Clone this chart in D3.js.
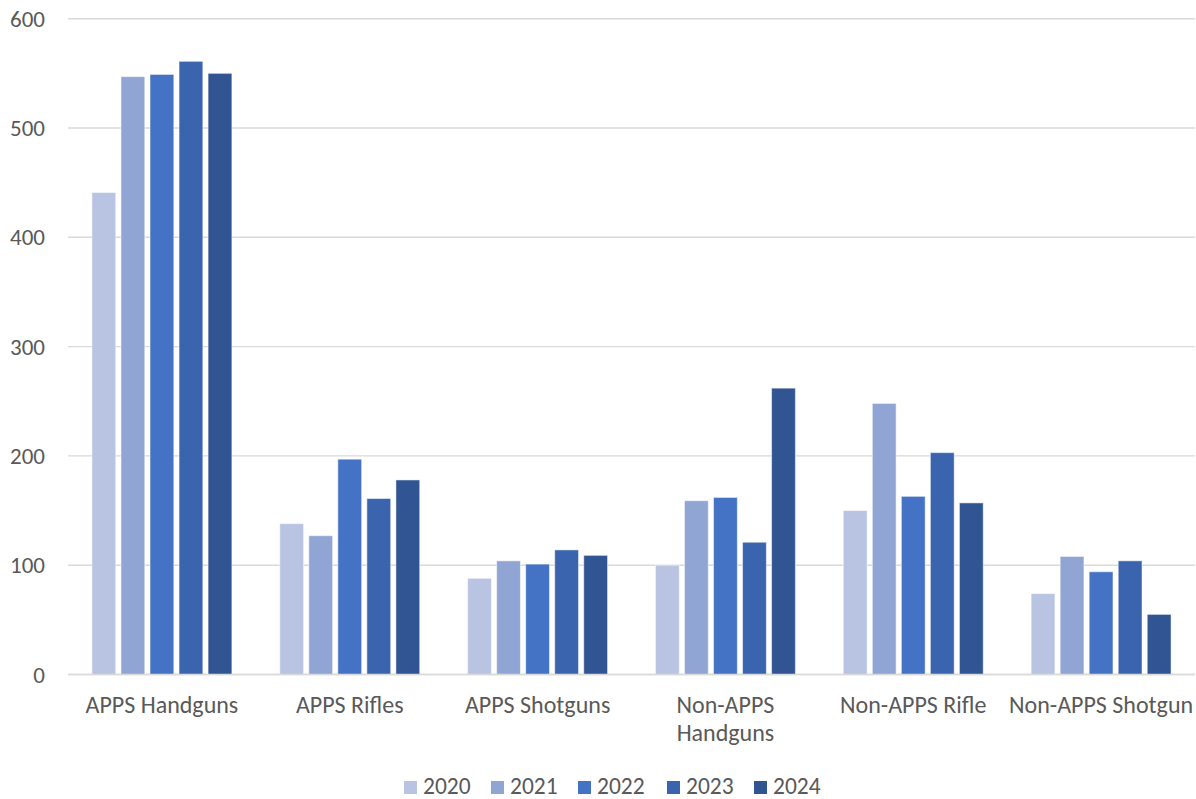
<!DOCTYPE html>
<html>
<head>
<meta charset="utf-8">
<script src="https://cdn.jsdelivr.net/npm/d3@7"></script>
<style>
  html, body { margin: 0; padding: 0; background: #fff; }
  svg { display: block; }
  text { font-family: Carlito, Calibri, Lato, "Open Sans", sans-serif; fill: #595959; }
</style>
</head>
<body>
<svg id="chart" width="1196" height="799"></svg>
<script>
const categories = ["APPS Handguns", "APPS Rifles", "APPS Shotguns", "Non-APPS Handguns", "Non-APPS Rifle", "Non-APPS Shotgun"];
const categoryLines = [["APPS Handguns"], ["APPS Rifles"], ["APPS Shotguns"], ["Non-APPS", "Handguns"], ["Non-APPS Rifle"], ["Non-APPS Shotgun"]];
const years = ["2020", "2021", "2022", "2023", "2024"];
const values2020 = [441, 138, 88, 100, 150, 74];
const values2021 = [547, 127, 104, 159, 248, 108];
const values2022 = [549, 197, 101, 162, 163, 94];
const values2023 = [561, 161, 114, 121, 203, 104];
const values2024 = [550, 178, 109, 262, 157, 55];
const yTicks = [0, 100, 200, 300, 400, 500, 600];
const colors = ["#B9C4E3", "#91A5D5", "#4473C5", "#3A64AD", "#315592"];

const series = [values2020, values2021, values2022, values2023, values2024];

const svg = d3.select("#chart");
const plotLeft = 68, plotRight = 1195, plotTop = 18.7, plotBottom = 674.5;

const y = d3.scaleLinear().domain([0, 600]).range([plotBottom, plotTop]);
const x0 = d3.scaleBand().domain(categories).range([plotLeft, plotRight]).paddingInner(0.255).paddingOuter(0.1275);
const x1 = d3.scaleBand().domain(years).range([0, x0.bandwidth()]).paddingInner(0.18);

// gridlines
svg.append("g").selectAll("line").data(yTicks).join("line")
  .attr("x1", plotLeft).attr("x2", plotRight)
  .attr("y1", d => y(d)).attr("y2", d => y(d))
  .attr("stroke", "#D9D9D9").attr("stroke-width", 1.4);

// y tick labels
svg.append("g").selectAll("text").data(yTicks).join("text")
  .attr("x", 45).attr("y", d => y(d) + 8)
  .attr("text-anchor", "end")
  .style("font-size", "23px")
  .text(d => d);

// bars
const groups = svg.append("g").selectAll("g").data(categories).join("g")
  .attr("transform", d => `translate(${x0(d)},0)`);
groups.selectAll("rect")
  .data((c, i) => years.map((yr, j) => ({ yr, j, v: series[j][i] })))
  .join("rect")
  .attr("x", d => x1(d.yr))
  .attr("width", x1.bandwidth())
  .attr("y", d => y(d.v))
  .attr("height", d => y(0) - y(d.v))
  .attr("fill", d => colors[d.j])
  .attr("stroke", "#ffffff").attr("stroke-opacity", 0.5).attr("stroke-width", 1);

// x axis line on top of bars
svg.append("line").attr("x1", plotLeft).attr("x2", plotRight)
  .attr("y1", y(0)).attr("y2", y(0))
  .attr("stroke", "#D9D9D9").attr("stroke-width", 1.4);

// category labels
const cl = svg.append("g").selectAll("text").data(categories).join("text")
  .attr("x", d => x0(d) + x0.bandwidth() / 2)
  .attr("y", 713)
  .attr("text-anchor", "middle")
  .style("font-size", "24px");
cl.each(function(d, i) {
  const t = d3.select(this);
  categoryLines[i].forEach((ln, k) => {
    t.append("tspan").attr("x", x0(d) + x0.bandwidth() / 2).attr("dy", k === 0 ? 0 : 28).text(ln);
  });
});

// legend
const legendX = [404, 491, 578, 667, 754];
const lg = svg.append("g").selectAll("g").data(years).join("g")
  .attr("transform", (d, i) => `translate(${legendX[i]},0)`);
lg.append("rect").attr("x", 0).attr("y", 781).attr("width", 13).attr("height", 13)
  .attr("fill", (d, i) => colors[i]);
lg.append("text").attr("x", 19).attr("y", 794).style("font-size", "23.5px").text(d => d);
</script>
</body>
</html>
